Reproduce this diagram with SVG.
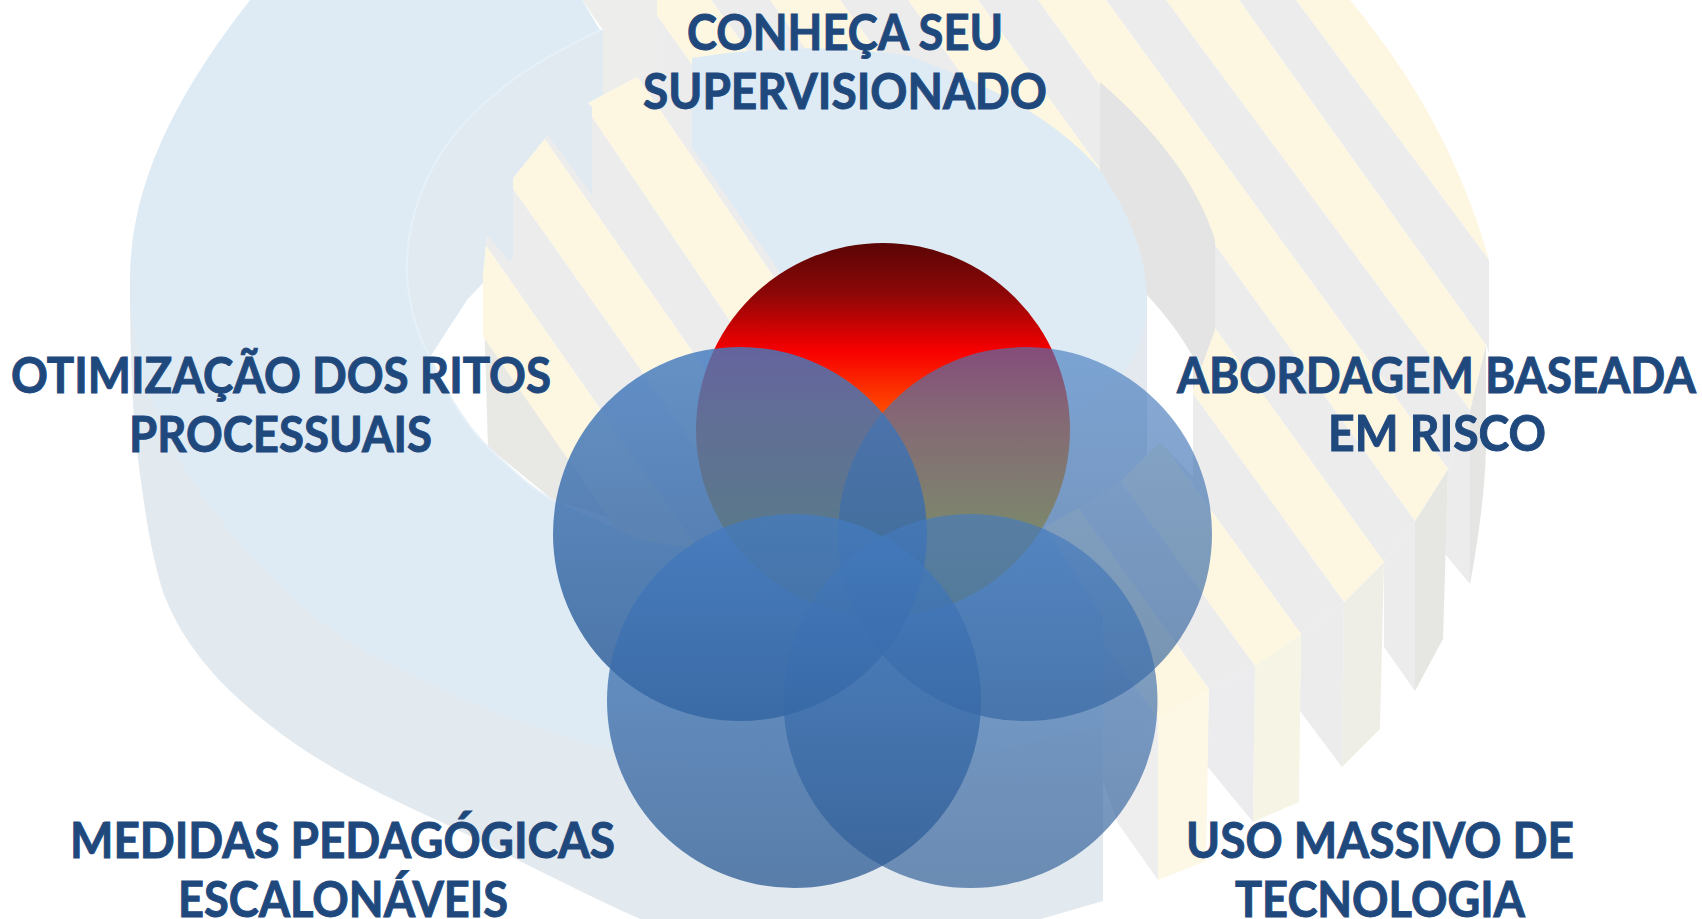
<svg xmlns="http://www.w3.org/2000/svg" width="1702" height="919" viewBox="0 0 1702 919">
<style>
.y{fill:#fdf7e1}.g{fill:#ececec}
.t{font-family:"Lato","Open Sans",sans-serif;font-weight:700;font-size:50px;fill:#1f497d;stroke:#1f497d;stroke-width:1px}
</style>
<defs>
<linearGradient id="red" x1="0" y1="0" x2="0" y2="1">
<stop offset="0" stop-color="#5a0505"/><stop offset=".14" stop-color="#8f0707"/><stop offset=".29" stop-color="#f80000"/><stop offset=".47" stop-color="#ff5500"/><stop offset=".75" stop-color="#f6b400"/><stop offset="1" stop-color="#ffd000"/>
</linearGradient>
<linearGradient id="blue" x1="0" y1="0" x2="0" y2="1">
<stop offset="0" stop-color="#447bc0"/><stop offset="1" stop-color="#2a5992"/>
</linearGradient>
<clipPath id="stripeClip"><path d="M657,0L1350,0Q1450,120 1489,260L1489,919L483,919L483,273L487,235L513,178L548,135L588,103L635,78L657,70Z"/></clipPath>
</defs>
<rect width="1702" height="919" fill="#fff"/>
<g id="background">
<path fill="#e8e8e4" d="M483,283L488,447L553,500L650,530L650,420L577,437L485,317Z"/>
<path class="g" d="M1448,469L1470,410L1470,584L1445,554Z"/>
<path fill="#e5e5e4" d="M1486,345L1470,410L1470,584Q1484,510 1486,450Z"/>
<path fill="#e6e6e3" d="M1448,469L1415,521L1415,691L1443,639Z"/>
<path class="g" d="M1415,521L1384,562L1384,647L1415,691Z"/>
<path fill="#eeeee6" d="M1384,562L1344,602L1342,767L1380,729Z"/>
<path class="g" d="M1344,602L1301,634L1300,711L1342,767Z"/>
<path fill="#f6f4e4" d="M1301,634L1255,666L1253,822L1299,802Z"/>
<path fill="#ececee" d="M1255,666L1209,689L1207,766L1253,822Z"/>
<path fill="#fdf7e6" d="M1209,689L1158,719L1158,880L1206,861Z"/>
<path fill="#eeeeee" d="M1158,719L1103,760L1103,780L1117,822L1158,880Z"/>
<g clip-path="url(#stripeClip)">
<path class="y" d="M1296,0L1400,0L1489,190L1489,260Z"/>
<path class="g" d="M1239,0L1296,0L1489,260L1489,353L1486,345Z"/>
<path class="y" d="M1166,0L1239,0L1486,345L1470,410Z"/>
<path class="g" d="M1106,0L1166,0L1470,410L1448,469Z"/>
<path class="y" d="M1038,0L1106,0L1448,469L1415,521Z"/>
<path class="g" d="M978,0L1038,0L1415,521L1384,562Z"/>
<path class="y" d="M908,0L978,0L1384,562L1344,602Z"/>
<path class="g" d="M840,0L908,0L1344,602L1301,634Z"/>
<path class="y" d="M770,0L840,0L1301,634L1255,666Z"/>
<path class="g" d="M711,0L770,0L1255,666L1209,689Z"/>
<path class="y" d="M646,0L711,0L1209,689L1158,719Z"/>
<path class="g" d="M585,0L646,0L1158,719L1103,760Z"/>
<path class="y" d="M513,0L585,0L1103,760L1040,780Z"/>
<path class="g" d="M448,0L513,0L1040,780L990,780Z"/>
<path class="y" d="M380,0L448,0L990,780L930,780Z"/>
<path class="g" d="M314,0L380,0L930,780L860,780Z"/>
<path class="y" d="M250,0L314,0L860,780L790,780Z"/>
</g>
<path fill="#e2e9ef" d="M130,280C130,350 132,410 138,459C144,505 150,550 163,592C185,650 225,690 271,726C320,765 385,797 450,826C515,858 580,892 640,919L1041,919L1103,901L1103,690L400,620Z"/>
<path fill="#ededeb" d="M582,0L657,0L657,70L635,78L603,95L603,30Z"/>
<path fill="#e1eaf1" d="M600,30C565,48 530,65 500,90C475,110 450,135 433,167C415,200 405,240 407,277C410,313 418,335 430,357L467,300L483,283L483,273L487,235L510,262L513,255L513,178L548,135L592,195L592,107L588,103L603,95L603,30Z"/>
<path fill="#e4e4e4" d="M1100,82Q1190,160 1215,240L1215,330L1193,390L1193,357Q1175,325 1147,295L1100,200Z"/>
<path fill="#fff" d="M1147,295Q1175,325 1193,357L1193,477L1160,442L1147,455Z"/>
<path fill="#e4e9ef" d="M1147,295L1147,455L1122,480L1078,508L1045,527L900,560L850,420Z"/>
<path fill="#deebf4" d="M692,58Q800,40 905,55Q1040,100 1100,170Q1147,240 1147,300Q1147,340 1123,373L1040,445L850,420L776,267L692,147Z"/>
<path fill="#deebf4" d="M250,0C180,90 130,180 130,280C130,340 150,410 179,459C220,530 300,620 380,659C450,695 530,730 608,749C720,775 860,785 960,759C1010,748 1060,735 1103,726L1103,617L1045,527L900,540L760,560L640,540L553,500C530,488 510,468 488,447C465,425 445,390 430,357C418,335 410,313 407,277C405,240 415,200 433,167C450,135 475,110 500,90C530,65 565,48 600,30L582,0Z"/>
<path fill="none" stroke="#e5f0f8" stroke-width="2" d="M553,500C530,488 510,468 488,447C465,425 445,390 430,357C418,335 410,313 407,277C405,240 415,200 433,167C450,135 475,110 500,90C530,65 565,48 600,30"/>
</g>
<g id="connectors"></g>
<g id="node-conheca">
<circle cx="883" cy="430" r="187" fill="url(#red)"/>
<text class="t" x="687" y="50" textLength="316" lengthAdjust="spacingAndGlyphs">CONHEÇA SEU</text>
<text class="t" x="643" y="109" textLength="404" lengthAdjust="spacingAndGlyphs">SUPERVISIONADO</text>
</g>
<g id="node-otimizacao">
<circle cx="740" cy="534" r="187" fill="url(#blue)" fill-opacity=".82"/>
<text class="t" x="11" y="393" textLength="540" lengthAdjust="spacingAndGlyphs">OTIMIZAÇÃO DOS RITOS</text>
<text class="t" x="129" y="452" textLength="303" lengthAdjust="spacingAndGlyphs">PROCESSUAIS</text>
</g>
<g id="node-abordagem">
<circle cx="1025" cy="534" r="187" fill="url(#blue)" fill-opacity=".64"/>
<text class="t" x="1177" y="393" textLength="519" lengthAdjust="spacingAndGlyphs">ABORDAGEM BASEADA</text>
<text class="t" x="1328" y="451" textLength="218" lengthAdjust="spacingAndGlyphs">EM RISCO</text>
</g>
<g id="node-medidas">
<circle cx="794" cy="701" r="187" fill="url(#blue)" fill-opacity=".75"/>
<text class="t" x="70" y="858" textLength="545" lengthAdjust="spacingAndGlyphs">MEDIDAS PEDAGÓGICAS</text>
<text class="t" x="178" y="917" textLength="330" lengthAdjust="spacingAndGlyphs">ESCALONÁVEIS</text>
</g>
<g id="node-uso">
<circle cx="970.500" cy="701" r="187" fill="url(#blue)" fill-opacity=".65"/>
<text class="t" x="1186" y="858" textLength="388" lengthAdjust="spacingAndGlyphs">USO MASSIVO DE</text>
<text class="t" x="1235" y="917" textLength="290" lengthAdjust="spacingAndGlyphs">TECNOLOGIA</text>
</g>
</svg>
